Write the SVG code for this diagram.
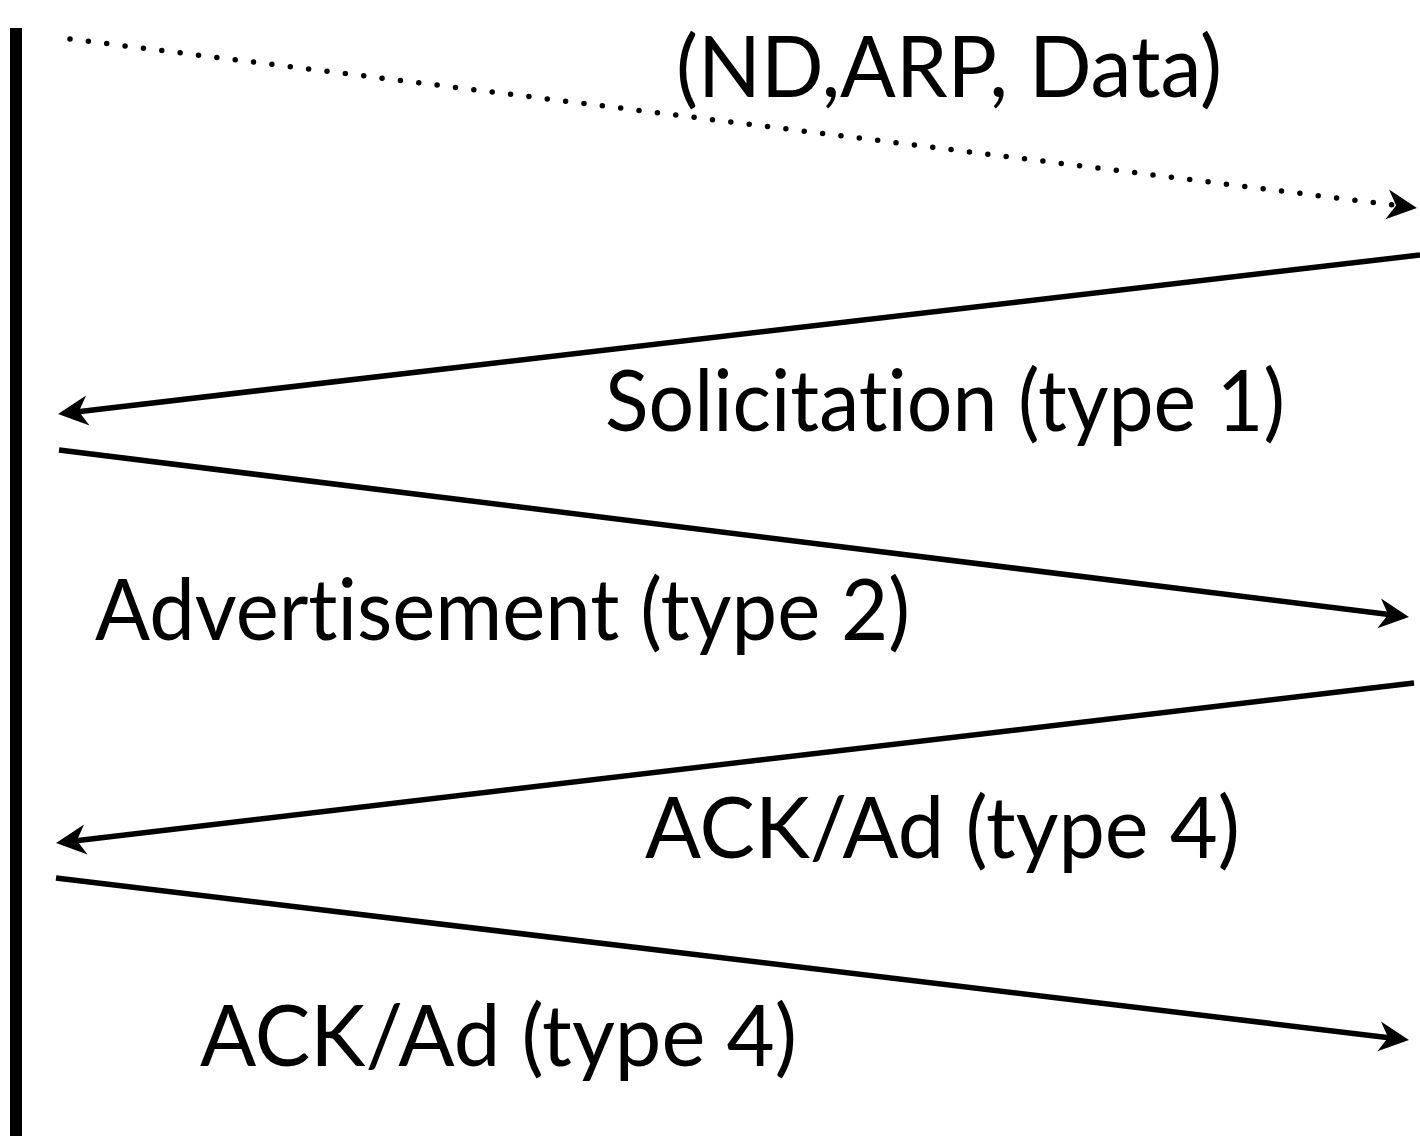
<svg xmlns="http://www.w3.org/2000/svg" width="1420" height="1136" viewBox="0 0 1420 1136">
<style>
.lbl{font-family:"Lato","Open Sans","Liberation Sans",sans-serif;font-size:85px;fill:#000;font-variant-ligatures:none}
.msg{fill:none;stroke:#000;stroke-width:5.5}
.dot{fill:none;stroke:#000;stroke-width:5.5;stroke-linecap:round;stroke-dasharray:0 18.5}
</style>
<defs>
<marker id="ah" markerUnits="userSpaceOnUse" orient="auto" refX="0" refY="0" markerWidth="40" markerHeight="40" overflow="visible">
<path d="M18,0 L-12,-15 L-3,0 L-12,15 Z" fill="#000"/>
</marker>
</defs>
<rect width="1420" height="1136" fill="#fff"/>
<g id="lifeline"><rect x="10" y="28" width="12" height="1108" fill="#000"/></g>
<g id="connectors">
<line class="dot" x1="70" y1="39" x2="1399.1" y2="205.8" marker-end="url(#ah)"/>
<line class="msg" x1="1420" y1="255" x2="75.9" y2="411.9" marker-end="url(#ah)"/>
<line class="msg" x1="59" y1="450" x2="1391.1" y2="614.8" marker-end="url(#ah)"/>
<line class="msg" x1="1414" y1="683" x2="73.9" y2="840.9" marker-end="url(#ah)"/>
<line class="msg" x1="56" y1="878" x2="1391.1" y2="1037.9" marker-end="url(#ah)"/>
</g>
<g id="labels">
<text class="lbl" x="676" y="97" textLength="546" lengthAdjust="spacingAndGlyphs">(ND,ARP, Data)</text>
<text class="lbl" x="605" y="431" textLength="680" lengthAdjust="spacingAndGlyphs">Solicitation (type 1)</text>
<text class="lbl" x="95" y="640" textLength="815" lengthAdjust="spacingAndGlyphs">Advertisement (type 2)</text>
<text class="lbl" x="645" y="858" textLength="595" lengthAdjust="spacingAndGlyphs">ACK/Ad (type 4)</text>
<text class="lbl" x="200" y="1066" textLength="597" lengthAdjust="spacingAndGlyphs">ACK/Ad (type 4)</text>
</g>
</svg>
